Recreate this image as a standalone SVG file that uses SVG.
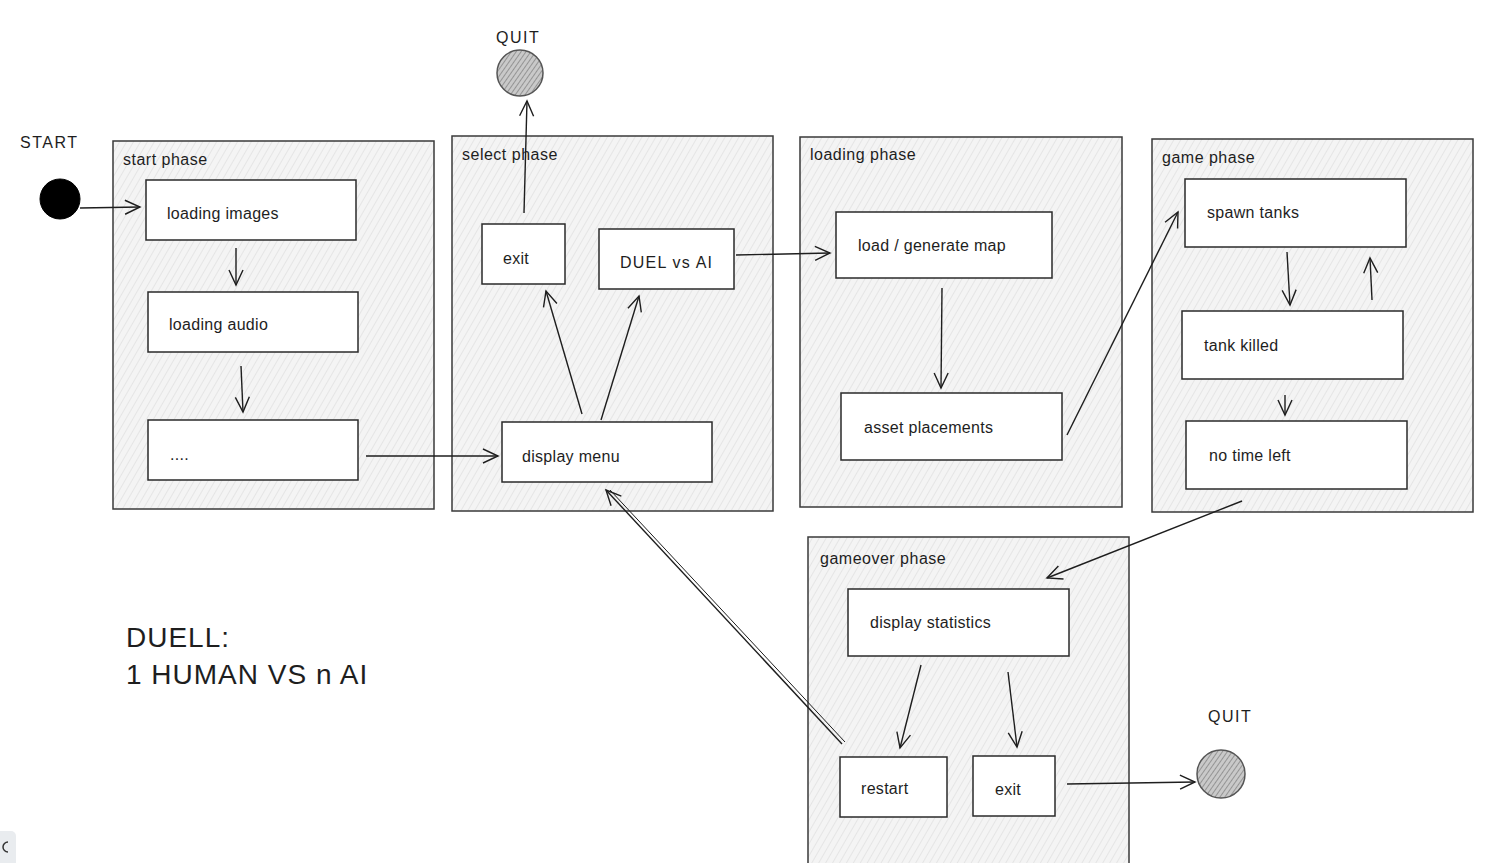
<svg xmlns="http://www.w3.org/2000/svg" width="1492" height="863" viewBox="0 0 1492 863">
<defs>
<pattern id="hatch" width="6" height="6" patternUnits="userSpaceOnUse" patternTransform="rotate(30)">
<rect width="6" height="6" fill="#f4f4f4"/>
<line x1="0" y1="0" x2="0" y2="6" stroke="#d6d6d6" stroke-width="1"/>
</pattern>
<pattern id="hatchDark" width="4" height="4" patternUnits="userSpaceOnUse" patternTransform="rotate(35)">
<rect width="4" height="4" fill="#c9c9c9"/>
<line x1="0" y1="0" x2="0" y2="4" stroke="#777" stroke-width="1.3"/>
</pattern>
<marker id="arr" markerWidth="18" markerHeight="16" refX="16" refY="8" orient="auto" markerUnits="userSpaceOnUse">
<path d="M1,1 L16,8 L1,15" fill="none" stroke="#1e1e1e" stroke-width="1.4"/>
</marker>
</defs>
<style>
.container{fill:url(#hatch);stroke:#3a3a3a;stroke-width:1.5}
.box{fill:#fff;stroke:#2a2a2a;stroke-width:1.5}
.t{font-family:"Liberation Sans",Arial,sans-serif;font-size:16px;fill:#1e1e1e;letter-spacing:0.3px}
.lbl{font-family:"Liberation Sans",Arial,sans-serif;font-size:16px;fill:#1e1e1e;letter-spacing:0.5px}
.big{font-family:"Liberation Sans",Arial,sans-serif;font-size:28px;fill:#1e1e1e;letter-spacing:1px}
.c{fill:none;stroke:#1e1e1e;stroke-width:1.4;marker-end:url(#arr)}
.quit{fill:url(#hatchDark);stroke:#555;stroke-width:1.5}
</style>
<rect width="1492" height="863" fill="#fff"/>

<g id="start-phase">
<rect class="container" x="113" y="141" width="321" height="368"/>
<text class="lbl" x="123" y="165">start phase</text>
</g>
<g id="select-phase">
<rect class="container" x="452" y="136" width="321" height="375"/>
<text class="lbl" x="462" y="160">select phase</text>
</g>
<g id="loading-phase">
<rect class="container" x="800" y="137" width="322" height="370"/>
<text class="lbl" x="810" y="160">loading phase</text>
</g>
<g id="game-phase">
<rect class="container" x="1152" y="139" width="321" height="373"/>
<text class="lbl" x="1162" y="163">game phase</text>
</g>
<g id="gameover-phase">
<rect class="container" x="808" y="537" width="321" height="330"/>
<text class="lbl" x="820" y="564">gameover phase</text>
</g>

<g id="start">
<text class="lbl" x="20" y="148" style="letter-spacing:1.5px">START</text>
<circle cx="60" cy="199" r="20" fill="#000" stroke="#000"/>
</g>
<g id="loading-images">
<rect class="box" x="146" y="180" width="210" height="60"/>
<text class="t" x="167" y="219">loading images</text>
</g>
<g id="loading-audio">
<rect class="box" x="148" y="292" width="210" height="60"/>
<text class="t" x="169" y="330">loading audio</text>
</g>
<g id="dots">
<rect class="box" x="148" y="420" width="210" height="60"/>
<text class="t" x="170" y="460">....</text>
</g>

<g id="quit-top">
<text class="lbl" x="496" y="43" style="letter-spacing:1.5px">QUIT</text>
<circle class="quit" cx="520" cy="73" r="23"/>
</g>
<g id="exit-select">
<rect class="box" x="482" y="224" width="83" height="60"/>
<text class="t" x="503" y="264">exit</text>
</g>
<g id="duel-vs-ai">
<rect class="box" x="599" y="229" width="135" height="60"/>
<text class="t" x="620" y="268" style="letter-spacing:1.2px">DUEL vs AI</text>
</g>
<g id="display-menu">
<rect class="box" x="502" y="422" width="210" height="60"/>
<text class="t" x="522" y="462">display menu</text>
</g>

<g id="load-generate-map">
<rect class="box" x="836" y="212" width="216" height="66"/>
<text class="t" x="858" y="251">load / generate map</text>
</g>
<g id="asset-placements">
<rect class="box" x="841" y="393" width="221" height="67"/>
<text class="t" x="864" y="433">asset placements</text>
</g>

<g id="spawn-tanks">
<rect class="box" x="1185" y="179" width="221" height="68"/>
<text class="t" x="1207" y="218">spawn tanks</text>
</g>
<g id="tank-killed">
<rect class="box" x="1182" y="311" width="221" height="68"/>
<text class="t" x="1204" y="351">tank killed</text>
</g>
<g id="no-time-left">
<rect class="box" x="1186" y="421" width="221" height="68"/>
<text class="t" x="1209" y="461">no time left</text>
</g>

<g id="display-statistics">
<rect class="box" x="848" y="589" width="221" height="67"/>
<text class="t" x="870" y="628">display statistics</text>
</g>
<g id="restart">
<rect class="box" x="840" y="757" width="107" height="60"/>
<text class="t" x="861" y="794">restart</text>
</g>
<g id="exit-gameover">
<rect class="box" x="973" y="756" width="82" height="60"/>
<text class="t" x="995" y="795">exit</text>
</g>
<g id="quit-bottom">
<text class="lbl" x="1208" y="722" style="letter-spacing:1.5px">QUIT</text>
<circle class="quit" cx="1221" cy="774" r="24"/>
</g>

<g id="title">
<text class="big" x="126" y="647">DUELL:</text>
<text class="big" x="126" y="684">1 HUMAN VS n AI</text>
</g>

<g id="ui-button">
<rect x="-8" y="831" width="24" height="36" rx="5" fill="#e9ecef"/>
<path d="M8,842 A5,5 0 1 0 8,852" fill="none" stroke="#333" stroke-width="1.5"/>
</g>

<g id="connectors">
<path class="c" d="M80,208 L140,207"/>
<path class="c" d="M236,248 L236,285"/>
<path class="c" d="M241,366 L243,412"/>
<path class="c" d="M366,456 L498,456"/>
<path class="c" d="M582,414 L546,291"/>
<path class="c" d="M601,420 L639,296"/>
<path class="c" d="M524,213 L527,101"/>
<path class="c" d="M736,255 L830,253"/>
<path class="c" d="M942,288 L941,388"/>
<path class="c" d="M1067,435 L1178,212"/>
<path class="c" d="M1287,252 L1290,305"/>
<path class="c" d="M1372,300 L1370,258"/>
<path class="c" d="M1285,395 L1285,415"/>
<path class="c" d="M1242,501 L1047,578"/>
<path class="c" d="M921,665 L900,748"/>
<path class="c" d="M1008,672 L1017,747"/>
<path class="c" d="M1067,784 L1195,782"/>
<path class="c" d="M842,744 L606,490"/>
<path d="M845,742 L610,490" fill="none" stroke="#1e1e1e" stroke-width="1"/>
</g>
</svg>
